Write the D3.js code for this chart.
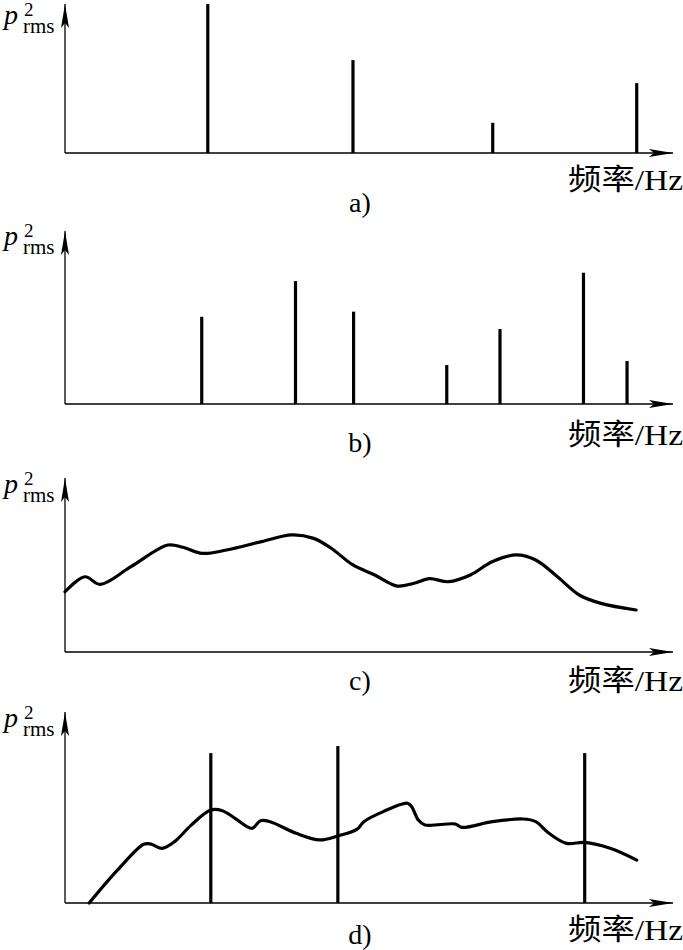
<!DOCTYPE html>
<html>
<head>
<meta charset="utf-8">
<script src="https://cdn.jsdelivr.net/npm/d3@7"></script>
<style>
  html, body { margin: 0; padding: 0; background: #fff; }
  svg { display: block; }
</style>
</head>
<body>
<svg id="chart" width="683" height="950"></svg>
<script>
// ---- Data (frequency in relative units 0-100, amplitude in relative units) ----
const panelLabels = ["a)", "b)", "c)", "d)"];
const xAxisTitle = "频率/Hz";

// a) discrete lines
const aFreq = [23.6, 47.6, 70.7, 94.5];
const aAmp  = [78.4, 48.9, 15.9, 36.8];

// b) discrete lines
const bFreq = [22.6, 38.1, 47.7, 63.1, 71.9, 85.7, 92.9];
const bAmp  = [45.9, 64.7, 48.6, 20.5, 39.5, 69.1, 22.6];

// c) continuous spectrum
const cFreq = [0, 3.3, 5.8, 10.9, 17.0, 19.5, 22.7, 26.7, 32.5, 37.5, 41.1, 44.0, 47.6,
               51.2, 54.9, 57.7, 60.2, 63.4, 67.0, 70.6, 74.6, 77.8, 81.4, 85.0, 88.6, 94.4];
const cAmp  = [31.7, 39.6, 35.6, 44.9, 56.3, 55.1, 51.9, 53.7, 58.1, 61.6, 59.8, 54.6, 45.8,
               40.5, 34.7, 36.2, 38.6, 37.0, 40.5, 47.5, 51.1, 48.4, 39.6, 30.0, 25.6, 22.1];

// d) mixed: lines + continuous
const dLineFreq = [24.1, 45.1, 85.9];
const dLineAmp  = [78.9, 82.6, 78.9];
const dFreq = [4.0, 8.7, 13.0, 14.1, 16.0, 18.1, 20.9, 24.1, 26.0, 28.1, 30.9, 32.3, 33.9,
               38.2, 42.1, 45.1, 48.3, 49.4, 52.6, 56.6, 57.3, 58.4, 59.5, 64.5, 65.6,
               70.6, 75.7, 77.8, 80.0, 82.9, 85.9, 90.1, 94.5];
const dAmp  = [0, 17.4, 30.9, 31.1, 28.8, 32.3, 41.1, 48.9, 48.6, 44.6, 39.3, 43.3, 42.8,
               36.7, 33.2, 35.3, 38.9, 42.8, 48.1, 52.5, 50.7, 43.7, 41.1, 41.6, 39.8,
               42.8, 44.2, 42.8, 36.7, 31.4, 31.9, 28.8, 22.6];

// ---- Layout ----
const svg = d3.select("#chart");
const x = d3.scaleLinear().domain([0, 100]).range([65, 670]);

const panels = [
  { axisY: 153, tipY: 4,   labelY: 24,  subY: 212, titleY: 190, bars: {f: aFreq, a: aAmp} },
  { axisY: 404, tipY: 231, labelY: 245, subY: 452, titleY: 445, bars: {f: bFreq, a: bAmp} },
  { axisY: 652, tipY: 478, labelY: 493, subY: 690, titleY: 691, curve: {f: cFreq, a: cAmp} },
  { axisY: 903, tipY: 712, labelY: 727, subY: 944, titleY: 940, bars: {f: dLineFreq, a: dLineAmp}, curve: {f: dFreq, a: dAmp} }
];

const defs = svg.append("defs");
defs.append("marker")
  .attr("id", "arrow")
  .attr("viewBox", "0 0 24 10")
  .attr("refX", 24).attr("refY", 5)
  .attr("markerWidth", 24).attr("markerHeight", 10)
  .attr("markerUnits", "userSpaceOnUse")
  .attr("orient", "auto")
  .append("path")
  .attr("d", "M0,1 L24,5 L0,9 L5,5 Z")
  .attr("fill", "#000");

const serif = "'Liberation Serif', 'Times New Roman', serif";

panels.forEach((p, i) => {
  const g = svg.append("g");
  const y = d3.scaleLinear().domain([0, 100]).range([p.axisY, p.axisY - 190]);

  // x axis
  const xAxis = d3.axisBottom(x).tickValues([]).tickSizeOuter(0);
  const gx = g.append("g").attr("transform", `translate(0,${p.axisY})`).call(xAxis);
  gx.select(".domain").remove();
  g.append("line")
    .attr("x1", x(0)).attr("x2", 673)
    .attr("y1", p.axisY).attr("y2", p.axisY)
    .attr("stroke", "#000").attr("stroke-width", 1.6)
    .attr("marker-end", "url(#arrow)");

  // y axis
  g.append("line")
    .attr("x1", x(0)).attr("x2", x(0))
    .attr("y1", p.axisY).attr("y2", p.tipY)
    .attr("stroke", "#000").attr("stroke-width", 1.3)
    .attr("marker-end", "url(#arrow)");

  // bars (spectral lines)
  if (p.bars) {
    g.selectAll("line.bar")
      .data(p.bars.f.map((f, k) => ({f, a: p.bars.a[k]})))
      .enter().append("line")
      .attr("class", "bar")
      .attr("x1", d => x(d.f)).attr("x2", d => x(d.f))
      .attr("y1", y(0)).attr("y2", d => y(d.a))
      .attr("stroke", "#000").attr("stroke-width", 3.2);
  }

  // continuous curve
  if (p.curve) {
    const pts = p.curve.f.map((f, k) => [f, p.curve.a[k]]);
    const line = d3.line()
      .x(d => x(d[0])).y(d => y(d[1]))
      .curve(d3.curveCatmullRom.alpha(0.5));
    g.append("path")
      .datum(pts)
      .attr("d", line)
      .attr("fill", "none")
      .attr("stroke", "#000")
      .attr("stroke-width", 3.2)
      .attr("stroke-linejoin", "round")
      .attr("stroke-linecap", "round");
  }

  // y label p^2_rms
  const lab = g.append("text")
    .attr("font-family", serif)
    .attr("fill", "#000");
  lab.append("tspan").attr("x", 4).attr("y", p.labelY)
    .attr("font-style", "italic").attr("font-size", 28).text("p");
  lab.append("tspan").attr("x", 24).attr("y", p.labelY - 8)
    .attr("font-size", 19).text("2");
  lab.append("tspan").attr("x", 23).attr("y", p.labelY + 9)
    .attr("font-size", 21).text("rms");

  // x axis title
  const t = g.append("text")
    .attr("x", 568).attr("y", p.titleY)
    .attr("font-size", 29)
    .attr("fill", "#000")
    .attr("textLength", 115)
    .attr("lengthAdjust", "spacingAndGlyphs");
  t.append("tspan").attr("font-family", "'Noto Sans CJK SC', sans-serif").text(xAxisTitle.slice(0, 2));
  t.append("tspan").attr("font-family", serif).text(xAxisTitle.slice(2));

  // panel sub label
  g.append("text")
    .attr("x", 360).attr("y", p.subY)
    .attr("text-anchor", "middle")
    .attr("font-family", serif)
    .attr("font-size", 28)
    .attr("fill", "#000")
    .text(panelLabels[i]);
});
</script>
</body>
</html>
